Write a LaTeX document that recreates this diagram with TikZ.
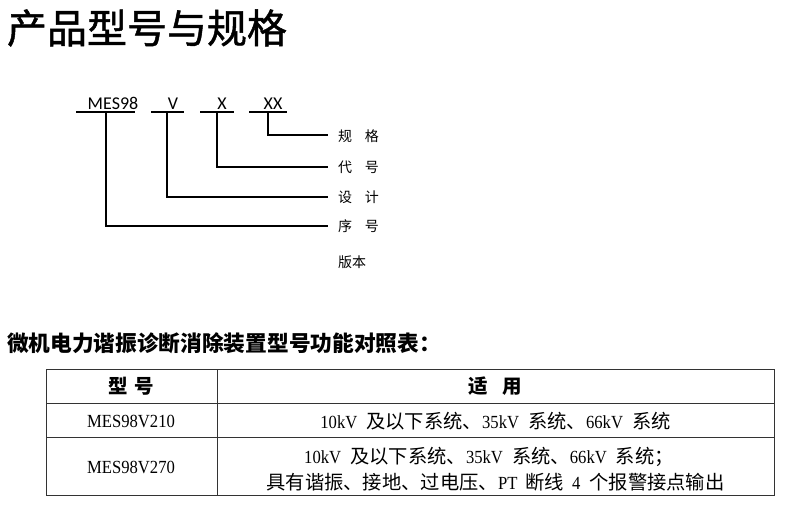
\documentclass[tikz,border=0pt]{standalone}
\usepackage{fontspec}
\newfontfamily\cjk{Noto Sans CJK SC}
\newfontfamily\cjkm[FakeBold=1.2]{Noto Sans CJK SC}
\newfontfamily\tser[FakeStretch=0.9]{Liberation Serif}
\newfontfamily\calib{Carlito}
\newcommand{\fs}[1]{\fontsize{#1}{#1}\selectfont}
\newcommand{\lt}[1]{{\tser\fs{18.5}#1}}
\tikzset{
  txt/.style={inner sep=0pt, outer sep=0pt},
  code/.style={txt, font=\calib\fs{18}},
  lab/.style={txt, anchor=west, font=\cjk\fs{14}},
  conn/.style={line width=1.1pt, black},
  tbl/.style={line width=1pt, black!80},
  cell/.style={txt, font=\cjk\fs{19.3}},
  head/.style={txt, font=\cjk\bfseries\fs{19.5}},
}
\begin{document}
\begin{tikzpicture}[x=1pt,y=-1pt]
\useasboundingbox (0,0) rectangle (790,524);
\fill[white] (0,0) rectangle (790,524);

% title
\node[txt, anchor=west, font=\cjkm\fs{40}] (title) at (7,28) {产品型号与规格};

% code parts
\node[code] (c1) at (113,103.5) {MES98};
\node[code] (c2) at (173,103.5) {V};
\node[code] (c3) at (222,103.5) {X};
\node[code] (c4) at (273,103.5) {XX};

\coordinate (u1a) at (76,112);  \coordinate (u1b) at (135,112);
\coordinate (u2a) at (151,112); \coordinate (u2b) at (184,112);
\coordinate (u3a) at (200,112); \coordinate (u3b) at (234,112);
\coordinate (u4a) at (249,112); \coordinate (u4b) at (287,112);
\draw[conn] (u1a) -- (u1b);
\draw[conn] (u2a) -- (u2b);
\draw[conn] (u3a) -- (u3b);
\draw[conn] (u4a) -- (u4b);

\coordinate (p1) at (106,112);
\coordinate (p2) at (167,112);
\coordinate (p3) at (217,112);
\coordinate (p4) at (268,112);

% labels
\node[lab] (l4) at (338,136) {规\hspace{13pt}格};
\node[lab] (l3) at (338,167) {代\hspace{13pt}号};
\node[lab] (l2) at (338,197) {设\hspace{13pt}计};
\node[lab] (l1) at (338,226) {序\hspace{13pt}号};
\node[lab] (l0) at (338,262) {版本};

\coordinate (e4) at (328,135);
\coordinate (e3) at (328,167);
\coordinate (e2) at (328,197);
\coordinate (e1) at (328,226);
\draw[conn] (p4) |- (e4);
\draw[conn] (p3) |- (e3);
\draw[conn] (p2) |- (e2);
\draw[conn] (p1) |- (e1);

% subtitle
\node[txt, anchor=west, font=\cjk\bfseries\fs{21.7}] (sub) at (7,343) {微机电力谐振诊断消除装置型号功能对照表：};

% table
\draw[tbl] (46,369) rectangle (774,495);
\draw[tbl] (46,403) -- (774,403);
\draw[tbl] (46,437) -- (774,437);
\draw[tbl] (217,369) -- (217,495);

\node[head] (h1) at (131.5,386) {型\hspace{7pt}号};
\node[head] (h2) at (495,386) {适\hspace{15pt}用};

\node[cell] (m1) at (131,421) {\lt{MES98V210}};
\node[cell] (r1) at (495.5,421) {\lt{10kV}\hspace{9pt}及以下系统、\lt{35kV}\hspace{9pt}系统、\lt{66kV}\hspace{9pt}系统};

\node[cell] (m2) at (131,467) {\lt{MES98V270}};
\node[cell] (r2a) at (489,456.5) {\lt{10kV}\hspace{9pt}及以下系统、\lt{35kV}\hspace{9pt}系统、\lt{66kV}\hspace{9pt}系统；};
\node[cell] (r2b) at (495.5,482.5) {具有谐振、接地、过电压、\lt{PT}\hspace{8pt}断线\hspace{8pt}\lt{4}\hspace{9pt}个报警接点输出};
\end{tikzpicture}
\end{document}
